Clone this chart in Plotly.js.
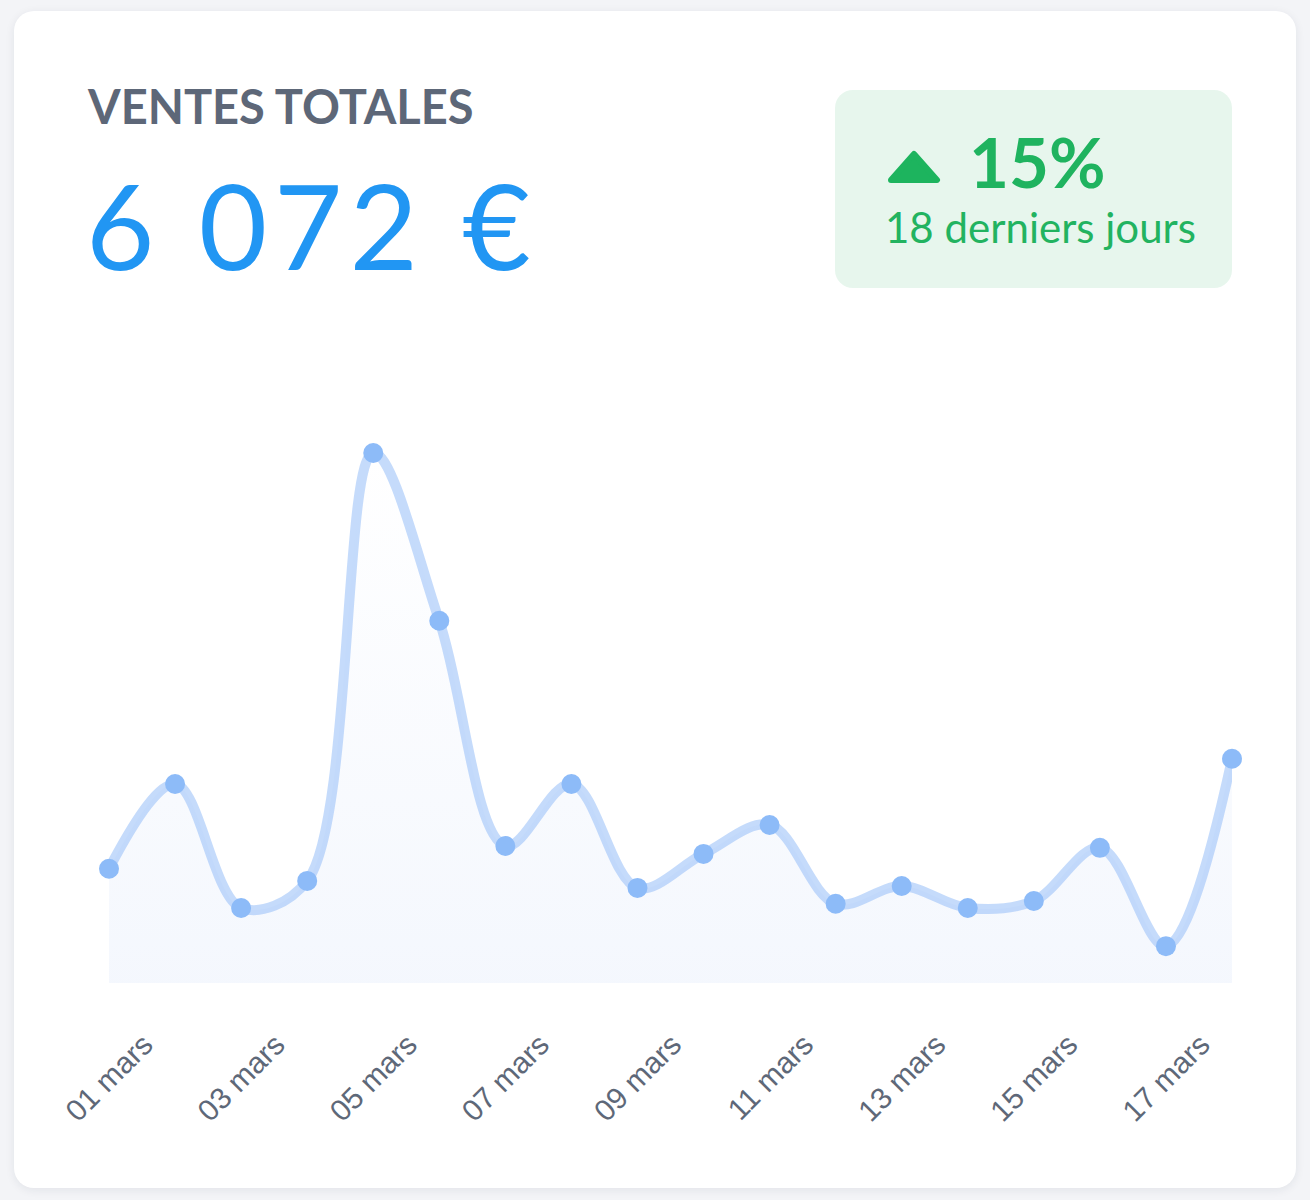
<!DOCTYPE html>
<html>
<head>
<meta charset="utf-8">
<script src="https://cdn.plot.ly/plotly-3.0.1.min.js"></script>
<style>
  body { margin: 0; background: #f3f4f7; font-family: Lato, "Open Sans", sans-serif; }
  #card {
    position: absolute; left: 14px; top: 11px; width: 1282px; height: 1177px;
    background: #ffffff; border-radius: 20px;
    box-shadow: 0 2px 10px rgba(30, 40, 60, 0.08);
  }
  #title {
    position: absolute; left: 88px; top: 78px; font-size: 47px; font-weight: 700;
    color: #5d6778; white-space: nowrap;
  }
  #total {
    position: absolute; left: 86px; top: 154px; font-size: 118px; font-weight: 400;
    letter-spacing: 7px; color: #2196f3; white-space: nowrap;
  }
  #badge {
    position: absolute; left: 835px; top: 90px; width: 397px; height: 198px;
    background: #e7f6ed; border-radius: 18px;
  }
  #badge svg { position: absolute; left: 52px; top: 60px; }
  #pct {
    position: absolute; left: 134px; top: 30px; font-size: 69px; font-weight: 700;
    color: #1fb35f; white-space: nowrap;
  }
  #period {
    position: absolute; left: 50px; top: 112px; font-size: 42px; font-weight: 400;
    color: #22b360; white-space: nowrap;
  }
  #chart { position: absolute; left: 0; top: 0; width: 1310px; height: 1200px; }
</style>
</head>
<body>
<div id="card"></div>
<div id="title">VENTES TOTALES</div>
<div id="total">6 072 €</div>
<div id="badge">
  <svg width="54" height="34" viewBox="0 0 54 34">
    <polygon points="27,4 50,30 4,30" fill="#1db45e" stroke="#1db45e" stroke-width="6" stroke-linejoin="round"/>
  </svg>
  <div id="pct">15%</div>
  <div id="period">18 derniers jours</div>
</div>
<div id="chart"></div>
<script>
// ventes par jour (€), 01 → 18 mars
var days = ['01 mars', '02 mars', '03 mars', '04 mars', '05 mars', '06 mars',
            '07 mars', '08 mars', '09 mars', '10 mars', '11 mars', '12 mars',
            '13 mars', '14 mars', '15 mars', '16 mars', '17 mars', '18 mars'];
var sales = [245, 427, 161, 219, 1137, 777, 294, 427, 204, 277, 339, 170,
             208, 161, 176, 290, 79, 481];
var tickDays = ['01 mars', '03 mars', '05 mars', '07 mars', '09 mars',
                '11 mars', '13 mars', '15 mars', '17 mars'];

var trace = {
	x: days,
	y: sales,
	type: 'scatter',
	mode: 'lines+markers',
	line: {shape: 'spline', smoothing: 1, color: 'rgba(150,190,248,0.55)', width: 10},
	marker: {size: 20, color: '#8dbbf8'},
	fill: 'tozeroy',
	fillgradient: {
		type: 'vertical',
		colorscale: [[0, 'rgba(120,160,235,0.08)'], [1, 'rgba(120,160,235,0.0)']]
	},
	cliponaxis: false,
	hoverinfo: 'x+y'
};

var layout = {
	width: 1310,
	height: 1200,
	margin: {l: 109, r: 78, t: 377, b: 217},
	paper_bgcolor: 'rgba(0,0,0,0)',
	plot_bgcolor: 'rgba(0,0,0,0)',
	showlegend: false,
	xaxis: {
		type: 'category',
		range: [0, 17],
		tickvals: tickDays,
		ticktext: tickDays,
		tickangle: -45,
		ticks: '',
		ticklabelshift: 35,
		ticklabelstandoff: 37,
		showgrid: false,
		zeroline: false,
		showline: false,
		tickfont: {family: 'Liberation Sans, Arial, sans-serif', size: 30, color: '#5e6878'}
	},
	yaxis: {
		range: [0, 1300],
		showticklabels: false,
		showgrid: false,
		zeroline: false,
		showline: false,
		ticks: ''
	}
};

Plotly.newPlot('chart', [trace], layout, {displayModeBar: false, staticPlot: true});
</script>
</body>
</html>
